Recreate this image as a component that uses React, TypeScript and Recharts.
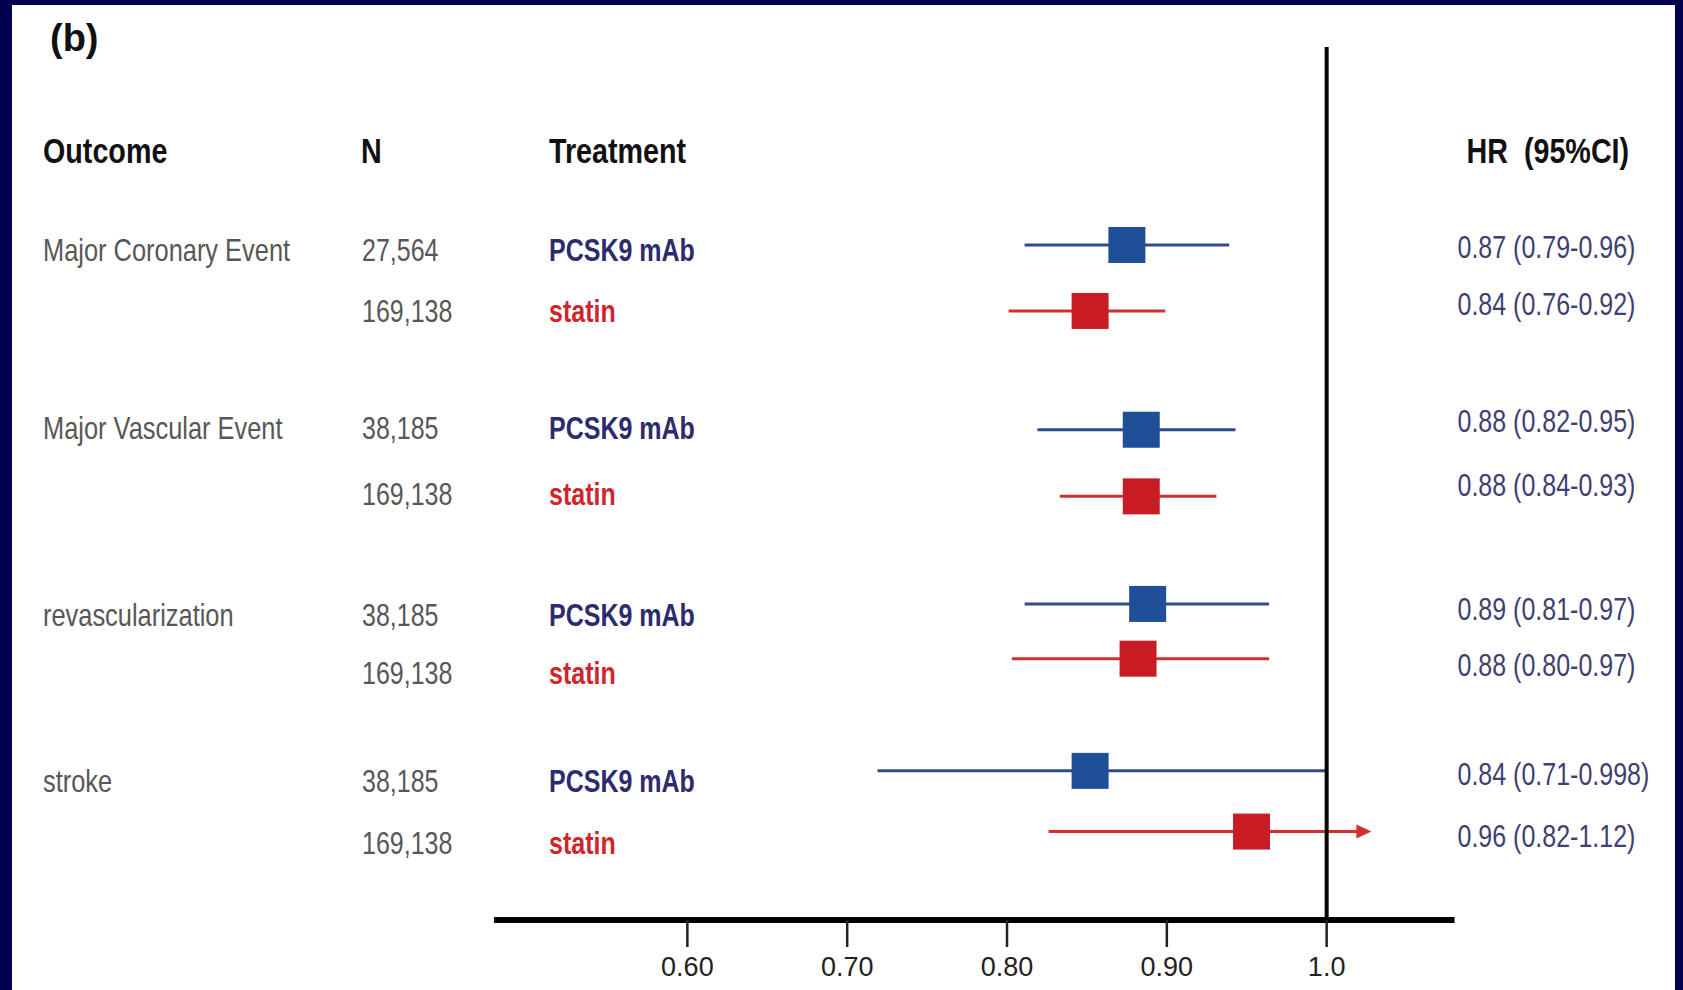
import React from "react";
import {
  ScatterChart,
  Scatter,
  XAxis,
  YAxis,
  ErrorBar,
  ReferenceLine,
  ReferenceDot,
} from "recharts";

// table columns, one entry per forest-plot row
const outcomes = ["Major Coronary Event", "", "Major Vascular Event", "", "revascularization", "", "stroke", ""];
const sampleSizes = ["27,564", "169,138", "38,185", "169,138", "38,185", "169,138", "38,185", "169,138"];
const treatments = ["PCSK9 mAb", "statin", "PCSK9 mAb", "statin", "PCSK9 mAb", "statin", "PCSK9 mAb", "statin"];
const hrLabels = [
  "0.87 (0.79-0.96)",
  "0.84 (0.76-0.92)",
  "0.88 (0.82-0.95)",
  "0.88 (0.84-0.93)",
  "0.89 (0.81-0.97)",
  "0.88 (0.80-0.97)",
  "0.84 (0.71-0.998)",
  "0.96 (0.82-1.12)",
];

// marker positions as drawn on the axis
const hrDrawn = [0.875, 0.852, 0.884, 0.884, 0.888, 0.882, 0.852, 0.953];
const ciLow = [0.811, 0.801, 0.819, 0.833, 0.811, 0.803, 0.719, 0.826];
const ciHigh = [0.939, 0.899, 0.943, 0.931, 0.964, 0.964, 1.0, 1.019];
const arrowTip = 1.028; // statin / stroke CI runs past the scale

// vertical row slots (0 = top of the plot)
const rowPos = [3.0, 4.0, 5.8, 6.81, 8.44, 9.27, 10.97, 11.89];
const labelPos = [3.08, 4.0, 5.77, 6.77, 8.61, 9.48, 11.12, 12.07];
const hrTextPos = [3.03, 3.89, 5.67, 6.64, 8.51, 9.36, 11.02, 11.95];
const headerPos = 1.56;
const yDomain: [number, number] = [0, 13.23];

const xTicks = [0.6, 0.7, 0.8, 0.9, 1.0];
const xTickLabels = ["0.60", "0.70", "0.80", "0.90", "1.0"];

// no narrow font installed, so squeeze Liberation Sans like Arial Narrow
const NARROW = "'Liberation Sans Narrow', 'Arial Narrow', 'Liberation Sans', Arial, sans-serif";
const SQUEEZE = 0.82;
const SANS = "'Liberation Sans', Arial, sans-serif";
const BLUE = "#1f4f96";
const BLUE_LINE = "#2e4d8c";
const RED = "#c91d25";
const RED_LINE = "#d0302f";
const NAVY_TEXT = "#2b2b6e";
const RED_TEXT = "#d0262b";

const rows = hrDrawn.map((hr, i) => ({
  x: hr,
  y: rowPos[i],
  err: [hr - ciLow[i], ciHigh[i] - hr],
}));
const pcskRows = rows.filter((_, i) => i % 2 === 0);
const statinRows = rows.filter((_, i) => i % 2 === 1);

const boxShape = (color: string) => (props: any) => {
  const { cx, cy } = props;
  return <rect x={cx - 18.5} y={cy - 18} width={37} height={36} fill={color} />;
};

function NText(props: any) {
  const { x, y, children, ...rest } = props;
  return (
    <text
      transform={`translate(${x} ${y}) scale(${SQUEEZE} 1)`}
      dy="0.36em"
      fontFamily={NARROW}
      style={{ whiteSpace: "pre" }}
      {...rest}
    >
      {children}
    </text>
  );
}

function LeftTick(props: any) {
  const { x, y, payload } = props;
  const v = payload.value;
  if (v === headerPos) {
    return (
      <g>
        <NText x={x - 451} y={y} fontWeight="bold" fontSize={35} fill="#111">Outcome</NText>
        <NText x={x - 133} y={y} fontWeight="bold" fontSize={35} fill="#111">N</NText>
        <NText x={x + 55} y={y} fontWeight="bold" fontSize={35} fill="#111">Treatment</NText>
      </g>
    );
  }
  const i = labelPos.indexOf(v);
  if (i < 0) return null;
  const pcsk = i % 2 === 0;
  return (
    <g>
      <NText x={x - 451} y={y} fontSize={31} fill="#575757">{outcomes[i]}</NText>
      <NText x={x - 132} y={y} fontSize={30.5} fill="#575757">{sampleSizes[i]}</NText>
      <NText x={x + 55} y={y} fontSize={30.5} fontWeight="bold" fill={pcsk ? NAVY_TEXT : RED_TEXT}>
        {treatments[i]}
      </NText>
    </g>
  );
}

function RightTick(props: any) {
  const { x, y, payload } = props;
  const v = payload.value;
  if (v === headerPos) {
    return (
      <NText x={x + 12} y={y} fontWeight="bold" fontSize={35} fill="#111">
        {"HR  (95%CI)"}
      </NText>
    );
  }
  const i = hrTextPos.indexOf(v);
  if (i < 0) return null;
  return (
    <NText x={x + 3} y={y} fontSize={30.5} fill="#3f3f72">
      {hrLabels[i]}
    </NText>
  );
}

const arrowHead = (props: any) => {
  const { cx, cy } = props;
  return <path d={`M${cx},${cy} L${cx - 15},${cy - 7} L${cx - 15},${cy + 7} Z`} fill={RED_LINE} />;
};

export default function App() {
  return (
    <div style={{ position: "absolute", left: 0, top: 0, width: 1683, height: 990, background: "#00004f" }}>
      <div style={{ position: "absolute", left: 12, top: 5, width: 1663, height: 985, background: "#ffffff" }} />
      <div
        style={{
          position: "absolute",
          left: 50,
          top: 19,
          fontFamily: SANS,
          fontWeight: "bold",
          fontSize: 38,
          lineHeight: 1,
          color: "#111",
        }}
      >
        (b)
      </div>
      <div style={{ position: "absolute", left: 0, top: 0 }}>
        <ScatterChart width={1683} height={990} margin={{ top: 47, right: 0, bottom: 0, left: 0 }}>
          <XAxis
            type="number"
            dataKey="x"
            domain={[0.479, 1.08]}
            allowDataOverflow
            ticks={xTicks}
            interval={0}
            tickFormatter={(v: number) => xTickLabels[xTicks.indexOf(v)] ?? String(v)}
            height={70}
            axisLine={{ stroke: "#000", strokeWidth: 6 }}
            tickLine={{ stroke: "#222", strokeWidth: 2.5 }}
            tickSize={27}
            tickMargin={10}
            tick={{ fill: "#222", fontSize: 27, fontFamily: SANS }}
          />
          <YAxis
            yAxisId="left"
            type="number"
            dataKey="y"
            domain={yDomain}
            allowDataOverflow
            reversed
            width={494}
            ticks={[headerPos, ...labelPos]}
            interval={0}
            axisLine={false}
            tickLine={false}
            tickSize={0}
            tickMargin={0}
            tick={LeftTick}
          />
          <YAxis
            yAxisId="right"
            orientation="right"
            type="number"
            dataKey="y"
            domain={yDomain}
            allowDataOverflow
            reversed
            width={228.5}
            ticks={[headerPos, ...hrTextPos]}
            interval={0}
            axisLine={false}
            tickLine={false}
            tickSize={0}
            tickMargin={0}
            tick={RightTick}
          />
          <Scatter yAxisId="left" data={pcskRows} shape={boxShape(BLUE)} isAnimationActive={false}>
            <ErrorBar dataKey="err" direction="x" width={0} stroke={BLUE_LINE} strokeWidth={3} />
          </Scatter>
          <Scatter yAxisId="left" data={statinRows} shape={boxShape(RED)} isAnimationActive={false}>
            <ErrorBar dataKey="err" direction="x" width={0} stroke={RED_LINE} strokeWidth={3} />
          </Scatter>
          <ReferenceDot yAxisId="left" x={arrowTip} y={rowPos[7]} shape={arrowHead} />
          <ReferenceLine yAxisId="left" x={1} stroke="#000" strokeWidth={4} />
        </ScatterChart>
      </div>
    </div>
  );
}
